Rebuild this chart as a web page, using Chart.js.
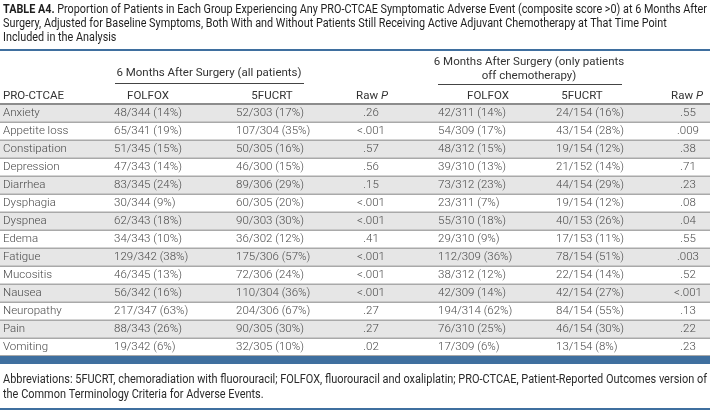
<!DOCTYPE html>
<html>
<head>
<meta charset="utf-8">
<script src="https://cdn.jsdelivr.net/npm/chart.js@4/dist/chart.umd.min.js"></script>
<style>
html,body{margin:0;padding:0;background:#fff;}
#wrap{width:710px;height:411px;}
</style>
</head>
<body>
<div id="wrap"><canvas id="c" width="710" height="411"></canvas></div>
<script>
const titleBold = 'TABLE A4.';
const titleLines = [
  ' Proportion of Patients in Each Group Experiencing Any PRO-CTCAE Symptomatic Adverse Event (composite score >0) at 6 Months After',
  'Surgery, Adjusted for Baseline Symptoms, Both With and Without Patients Still Receiving Active Adjuvant Chemotherapy at That Time Point',
  'Included in the Analysis'
];
const groupHeaders = ['6 Months After Surgery (all patients)', ['6 Months After Surgery (only patients', 'off chemotherapy)']];
const columnHeaders = ['PRO-CTCAE', 'FOLFOX', '5FUCRT', 'Raw P', 'FOLFOX', '5FUCRT', 'Raw P'];
const symptoms = ['Anxiety','Appetite loss','Constipation','Depression','Diarrhea','Dysphagia','Dyspnea','Edema','Fatigue','Mucositis','Nausea','Neuropathy','Pain','Vomiting'];
const folfoxAll = ['48/344 (14%)','65/341 (19%)','51/345 (15%)','47/343 (14%)','83/345 (24%)','30/344 (9%)','62/343 (18%)','34/343 (10%)','129/342 (38%)','46/345 (13%)','56/342 (16%)','217/347 (63%)','88/343 (26%)','19/342 (6%)'];
const fucrtAll = ['52/303 (17%)','107/304 (35%)','50/305 (16%)','46/300 (15%)','89/306 (29%)','60/305 (20%)','90/303 (30%)','36/302 (12%)','175/306 (57%)','72/306 (24%)','110/304 (36%)','204/306 (67%)','90/305 (30%)','32/305 (10%)'];
const rawPAll = ['.26','<.001','.57','.56','.15','<.001','<.001','.41','<.001','<.001','<.001','.27','.27','.02'];
const folfoxOff = ['42/311 (14%)','54/309 (17%)','48/312 (15%)','39/310 (13%)','73/312 (23%)','23/311 (7%)','55/310 (18%)','29/310 (9%)','112/309 (36%)','38/312 (12%)','42/309 (14%)','194/314 (62%)','76/310 (25%)','17/309 (6%)'];
const fucrtOff = ['24/154 (16%)','43/154 (28%)','19/154 (12%)','21/152 (14%)','44/154 (29%)','19/154 (12%)','40/153 (26%)','17/153 (11%)','78/154 (51%)','22/154 (14%)','42/154 (27%)','84/154 (55%)','46/154 (30%)','13/154 (8%)'];
const rawPOff = ['.55','.009','.38','.71','.23','.08','.04','.55','.003','.52','<.001','.13','.22','.23'];
const footnote = [
  'Abbreviations: 5FUCRT, chemoradiation with fluorouracil; FOLFOX, fluorouracil and oxaliplatin; PRO-CTCAE, Patient-Reported Outcomes version of',
  'the Common Terminology Criteria for Adverse Events.'
];

const FONT = 'Roboto, "Liberation Sans", sans-serif';
const BLUE = '#3f6f9f';

function condensedLines(ctx, parts, x, y0, lh, fitWidth, fontN, fontB, color) {
  // parts: array of lines; first line may start with bold prefix
  ctx.save();
  ctx.fillStyle = color;
  ctx.textBaseline = 'middle';
  ctx.textAlign = 'left';
  let w1 = 0;
  const first = parts[0];
  if (first.bold) { ctx.font = fontB; w1 += ctx.measureText(first.bold).width; }
  ctx.font = fontN; w1 += ctx.measureText(first.text).width;
  const s = fitWidth / w1;
  parts.forEach((p, i) => {
    ctx.save();
    ctx.translate(x, y0 + i * lh);
    ctx.scale(s, 1);
    let cx = 0;
    if (p.bold) { ctx.font = fontB; ctx.fillText(p.bold, 0, 0); cx = ctx.measureText(p.bold).width; }
    ctx.font = fontN; ctx.fillText(p.text, cx, 0);
    ctx.restore();
  });
  ctx.restore();
}

const tablePlugin = {
  id: 'tablePlugin',
  beforeDraw(chart) {
    const ctx = chart.ctx;
    ctx.save(); ctx.fillStyle = '#fff'; ctx.fillRect(0, 0, chart.width, chart.height); ctx.restore();
  },
  afterDraw(chart) {
    const ctx = chart.ctx;
    const y = chart.scales.y;
    const W = chart.width;
    const rowH = Math.abs(y.getPixelForValue(1) - y.getPixelForValue(0));

    // title
    condensedLines(ctx, [
      {bold: titleBold, text: titleLines[0]},
      {text: titleLines[1]},
      {text: titleLines[2]}
    ], 3, 10, 14, 704, '12.5px ' + FONT, 'bold 12.5px ' + FONT, '#1e1e1e');

    // top blue line
    ctx.fillStyle = BLUE;
    ctx.fillRect(0, 49, W, 2);

    ctx.textBaseline = 'middle';
    // group headers
    ctx.fillStyle = '#333';
    ctx.font = '11.5px ' + FONT;
    ctx.textAlign = 'center';
    ctx.fillText(groupHeaders[0], 209, 73);
    ctx.fillText(groupHeaders[1][0], 529, 62);
    ctx.fillText(groupHeaders[1][1], 529, 76);
    ctx.fillStyle = '#444';
    ctx.fillRect(115, 83, 189, 1);
    ctx.fillRect(438, 84, 184, 1);

    // column headers
    const hx = [3, 148, 272, 372, 488, 582, 687];
    const headY = 96;
    ctx.fillStyle = '#333';
    columnHeaders.forEach((h, i) => {
      ctx.font = '11.5px ' + FONT;
      if (h === 'Raw P') {
        const a = 'Raw ';
        ctx.font = '11.5px ' + FONT;
        const wa = ctx.measureText(a).width;
        ctx.font = 'italic 11.5px ' + FONT;
        const wb = ctx.measureText('P').width;
        const sx = hx[i] - (wa + wb) / 2;
        ctx.textAlign = 'left';
        ctx.font = '11.5px ' + FONT;
        ctx.fillText(a, sx, headY);
        ctx.font = 'italic 11.5px ' + FONT;
        ctx.fillText('P', sx + wa, headY);
      } else {
        ctx.textAlign = i === 0 ? 'left' : 'center';
        ctx.fillText(h, hx[i], headY);
      }
    });

    // rows
    const top0 = y.getPixelForValue(0) - rowH / 2;
    symptoms.forEach((s, i) => {
      const cy = y.getPixelForValue(i);
      const t = cy - rowH / 2;
      if (i % 2 === 0) {
        ctx.fillStyle = '#e6e6e6';
        ctx.fillRect(0, t, W, rowH);
      }
    });
    // row lines
    ctx.fillStyle = '#a9a9a9';
    for (let i = 1; i < symptoms.length; i++) {
      const t = y.getPixelForValue(i) - rowH / 2;
      ctx.fillRect(0, t - 0.5, W, 1.5);
    }
    // header line
    ctx.fillStyle = '#8c8c8c';
    ctx.fillRect(0, top0 - 1, W, 2);

    ctx.font = '300 11.5px ' + FONT;
    ctx.fillStyle = '#4a4a4a';
    symptoms.forEach((s, i) => {
      const cy = y.getPixelForValue(i) + 0.5;
      ctx.textAlign = 'left';
      ctx.fillText(s, 3, cy);
      ctx.fillText(folfoxAll[i], 114, cy);
      ctx.fillText(fucrtAll[i], 236, cy);
      ctx.fillText(folfoxOff[i], 438, cy);
      ctx.fillText(fucrtOff[i], 556, cy);
      ctx.textAlign = 'center';
      ctx.fillText(rawPAll[i], 371, cy);
      ctx.fillText(rawPOff[i], 688, cy);
    });

    // bottom thick blue bar
    const bot = y.getPixelForValue(symptoms.length - 1) + rowH / 2;
    ctx.fillStyle = '#a9a9a9';
    ctx.fillRect(0, bot - 1, W, 1);
    ctx.fillStyle = BLUE;
    ctx.fillRect(0, bot, W, 8);

    // footnote
    condensedLines(ctx, [
      {text: footnote[0]},
      {text: footnote[1]}
    ], 3, 380, 15, 704, '12px ' + FONT, 'bold 12px ' + FONT, '#2a2a2a');

    ctx.fillStyle = BLUE;
    ctx.fillRect(0, 408, W, 2);
  }
};

new Chart(document.getElementById('c'), {
  type: 'bar',
  data: { labels: symptoms, datasets: [] },
  options: {
    indexAxis: 'y',
    responsive: false,
    animation: false,
    events: [],
    layout: { padding: { top: 104, bottom: 55, left: 0, right: 0 } },
    plugins: { legend: { display: false }, tooltip: { enabled: false }, title: { display: false } },
    scales: {
      y: { type: 'category', display: false, offset: true },
      x: { type: 'linear', display: false, min: 0, max: 1 }
    }
  },
  plugins: [tablePlugin]
});
</script>
</body>
</html>
